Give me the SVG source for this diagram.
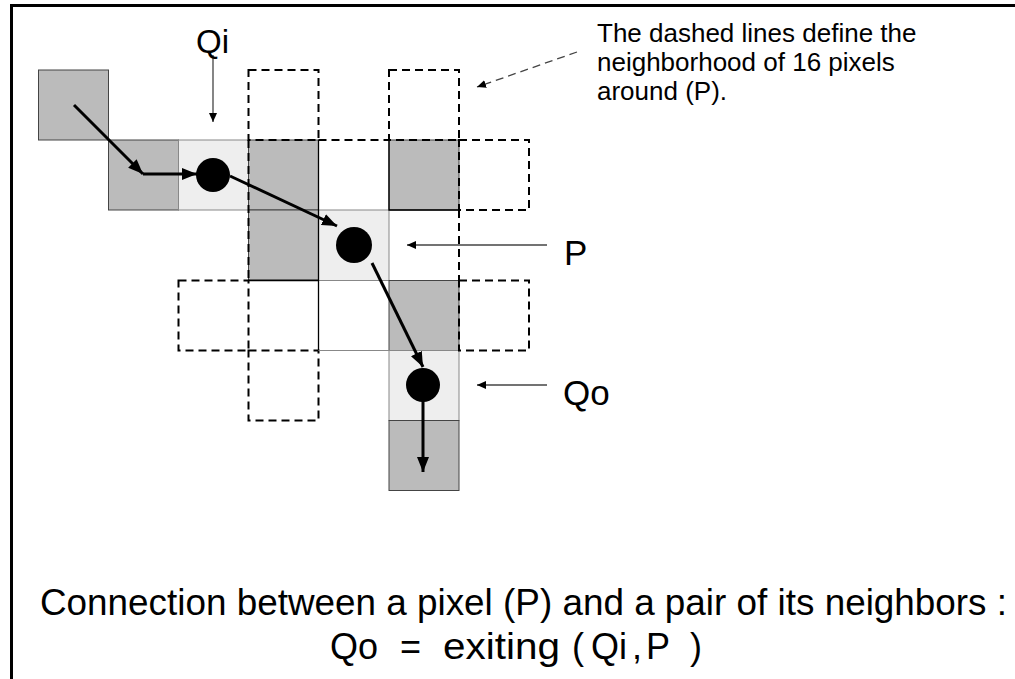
<svg xmlns="http://www.w3.org/2000/svg" width="1015" height="679" viewBox="0 0 1015 679">
<defs>
<style>
.txt{font-family:"Liberation Sans",Arial,sans-serif;fill:#000}
.gray{fill:#bbbbbb;stroke:#444;stroke-width:1}
.light{fill:#eeeeee;stroke:#888;stroke-width:1}
.dash{fill:none;stroke:#000;stroke-width:2;stroke-dasharray:8,5}
.solid{fill:none;stroke:#000;stroke-width:1.3}
.thick{fill:none;stroke:#000;stroke-width:3;marker-end:url(#bigHead)}
.thin{fill:none;stroke:#444;stroke-width:1.3;marker-end:url(#smallHead)}
.dot{fill:#000}
</style>
<marker id="bigHead" markerUnits="userSpaceOnUse" markerWidth="16" markerHeight="12" refX="15" refY="6" orient="auto">
<path d="M0,0 L15,6 L0,12 Z" fill="#000"/>
</marker>
<marker id="smallHead" markerUnits="userSpaceOnUse" markerWidth="10" markerHeight="8" refX="9" refY="4" orient="auto">
<path d="M0,0 L9,4 L0,8 Z" fill="#000"/>
</marker>
</defs>
<rect width="1015" height="679" fill="#fff"/>
<path d="M11.5,679 V5.5 H1015" fill="none" stroke="#000" stroke-width="3"/>

<g id="pixels">
<rect class="gray" x="38.5" y="70" width="70" height="70"/>
<rect class="gray" x="108.5" y="140" width="70" height="70"/>
<rect class="light" x="178.5" y="140" width="70" height="70"/>
<rect class="gray" x="248.5" y="140" width="70" height="70"/>
<rect class="gray" x="389" y="140" width="70" height="70"/>
<rect class="gray" x="248.5" y="210" width="70" height="70"/>
<rect class="light" x="318.5" y="210" width="70.5" height="70.5"/>
<rect class="gray" x="389" y="280.5" width="70" height="70"/>
<rect class="light" x="389" y="350.5" width="70" height="70"/>
<rect class="gray" x="389" y="420.5" width="70" height="70"/>
</g>

<g id="neighborhood">
<rect class="dash" x="248.5" y="70" width="70" height="70"/>
<rect class="dash" x="389" y="70" width="70" height="70"/>
<rect class="dash" x="459" y="140" width="70" height="70"/>
<rect class="dash" x="459" y="280.5" width="70" height="70"/>
<rect class="dash" x="178.5" y="280.5" width="70" height="70"/>
<rect class="dash" x="248.5" y="350.5" width="70" height="70"/>
<path class="dash" d="M248.5,140 V280.5 M318.5,140 H389 M459,210 V280.5"/>
<path class="solid" d="M318.5,140 V350.5 M389,140 V210 H459 M248.5,280.5 H318.5"/>
<path d="M318.5,350.5 H389" fill="none" stroke="#888" stroke-width="1"/>
</g>

<g id="connectors">
<path class="thick" d="M74,105 L143,174"/>
<path class="thick" d="M143,174 L197,174"/>
<path class="thick" d="M230,176 L337,226"/>
<path class="thick" d="M372,263 L423,367"/>
<path class="thick" d="M423,385 L423,472"/>
<path class="thin" d="M213,55 V122"/>
<path class="thin" d="M547,245 H407"/>
<path class="thin" d="M547,385 H477"/>
<path class="thin" d="M577,52 L477,87" stroke-dasharray="8,5"/>
</g>

<g id="nodeQi"><circle class="dot" cx="213" cy="175" r="17"/><text class="txt" x="196" y="53" font-size="33">Qi</text></g>
<g id="nodeP"><circle class="dot" cx="354" cy="245" r="18"/><text class="txt" x="564" y="265" font-size="35">P</text></g>
<g id="nodeQo"><circle class="dot" cx="423" cy="385" r="17"/><text class="txt" x="563" y="405" font-size="35">Qo</text></g>

<g id="note">
<text class="txt" font-size="26"><tspan x="597" y="42">The dashed lines define the</tspan><tspan x="597" y="71">neighborhood of 16 pixels</tspan><tspan x="597" y="100">around (P).</tspan></text>
</g>

<g id="caption">
<text class="txt" x="40" y="615" font-size="37" textLength="967" lengthAdjust="spacingAndGlyphs">Connection between a pixel (P) and a pair of its neighbors :</text>
<text class="txt" y="659" font-size="36"><tspan x="330">Qo</tspan><tspan x="400">=</tspan><tspan x="443" textLength="117" lengthAdjust="spacingAndGlyphs">exiting</tspan><tspan x="572">(</tspan><tspan x="591">Qi</tspan><tspan x="632">,</tspan><tspan x="646">P</tspan><tspan x="690">)</tspan></text>
</g>
</svg>
